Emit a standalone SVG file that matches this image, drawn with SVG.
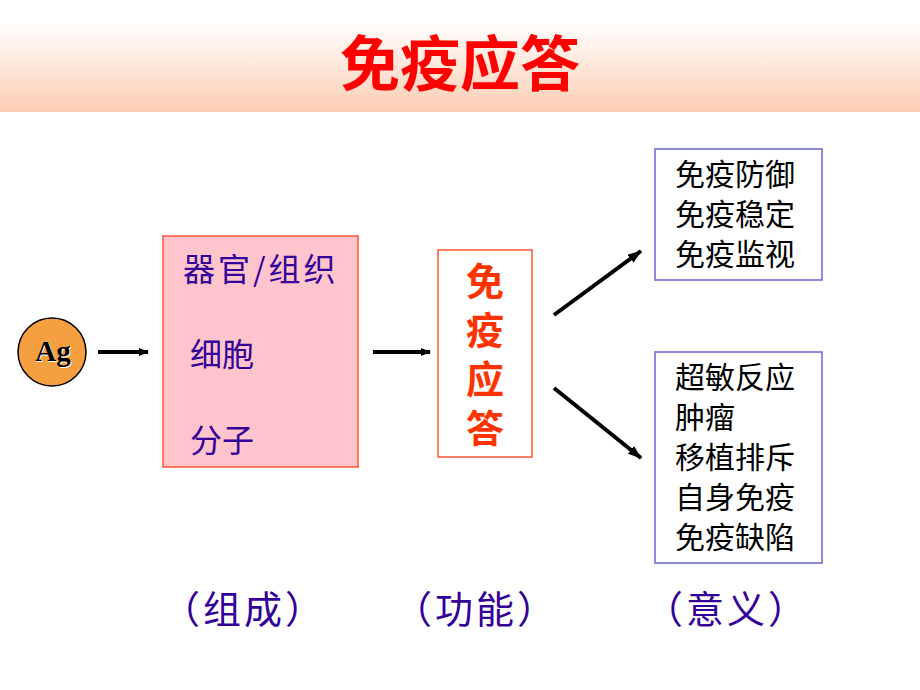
<svg xmlns="http://www.w3.org/2000/svg" width="920" height="690" viewBox="0 0 920 690">
<defs>
<linearGradient id="band" x1="0" y1="0" x2="0" y2="1">
<stop offset="0" stop-color="#FFFFFF"/>
<stop offset="1" stop-color="#FCCDB2"/>
</linearGradient>
<marker id="ah" markerWidth="10" markerHeight="8" refX="9" refY="4" orient="auto" markerUnits="userSpaceOnUse">
<path d="M0,0 L10,4 L0,8 Z" fill="#000"/>
</marker>
<marker id="ah2" markerWidth="14" markerHeight="10" refX="13" refY="5" orient="auto" markerUnits="userSpaceOnUse">
<path d="M0,0 L14,5 L0,10 Z" fill="#000"/>
</marker>
</defs>
<style>
.cjk{font-family:"Noto Sans CJK SC","Liberation Sans",sans-serif;}
.blue{fill:#330099;}
.blk{fill:#000;}
.conn{stroke:#000;stroke-width:4;fill:none;}
</style>
<rect x="0" y="0" width="920" height="690" fill="#FFFFFF"/>
<rect x="0" y="22" width="920" height="90" fill="url(#band)"/>
<text x="460" y="86" text-anchor="middle" class="cjk" font-size="60" font-weight="bold" fill="#FF0000">免疫应答</text>

<g id="connectors">
<line class="conn" x1="98" y1="352" x2="148" y2="352" marker-end="url(#ah)"/>
<line class="conn" x1="373" y1="352" x2="430" y2="352" marker-end="url(#ah)"/>
<line class="conn" x1="554" y1="315" x2="641" y2="251" marker-end="url(#ah2)"/>
<line class="conn" x1="554" y1="388" x2="641" y2="458" marker-end="url(#ah2)"/>
</g>

<g id="ag">
<circle cx="52" cy="352" r="34" fill="#F5A040" stroke="#000" stroke-width="1.5"/>
<text x="54" y="362" text-anchor="middle" font-family="'Liberation Serif',serif" font-weight="bold" font-size="29" fill="#FFFFFF">Ag</text>
<text x="53" y="361" text-anchor="middle" font-family="'Liberation Serif',serif" font-weight="bold" font-size="29" fill="#000">Ag</text>
</g>

<g id="composition">
<rect x="163" y="236" width="195" height="231" fill="#FFC4CC" stroke="#FF5533" stroke-width="1.5"/>
<text x="183" y="281" class="cjk blue" font-size="32" letter-spacing="3">器官/组织</text>
<text x="190" y="366" class="cjk blue" font-size="32">细胞</text>
<text x="190" y="452" class="cjk blue" font-size="32">分子</text>
</g>

<g id="function">
<rect x="438" y="250" width="94" height="207" fill="#FFFFFF" stroke="#FF5533" stroke-width="1.5"/>
<text x="485" y="262" writing-mode="vertical-rl" class="cjk" font-size="38" font-weight="bold" fill="#FF3300" letter-spacing="11">免疫应答</text>
</g>

<g id="meaning-top">
<rect x="655" y="149" width="167" height="131" fill="#FFFFFF" stroke="#6666CC" stroke-width="1.5"/>
<g class="cjk blk" font-size="30">
<text x="675" y="185">免疫防御</text>
<text x="675" y="225">免疫稳定</text>
<text x="675" y="265">免疫监视</text>
</g>
</g>

<g id="meaning-bottom">
<rect x="655" y="352" width="167" height="211" fill="#FFFFFF" stroke="#6666CC" stroke-width="1.5"/>
<g class="cjk blk" font-size="30">
<text x="675" y="388">超敏反应</text>
<text x="675" y="428">肿瘤</text>
<text x="675" y="468">移植排斥</text>
<text x="675" y="508">自身免疫</text>
<text x="675" y="548">免疫缺陷</text>
</g>
</g>

<g id="labels" class="cjk blue" font-size="38" letter-spacing="3">
<text x="162" y="623">（组成）</text>
<text x="394" y="623">（功能）</text>
<text x="645" y="623">（意义）</text>
</g>
</svg>
